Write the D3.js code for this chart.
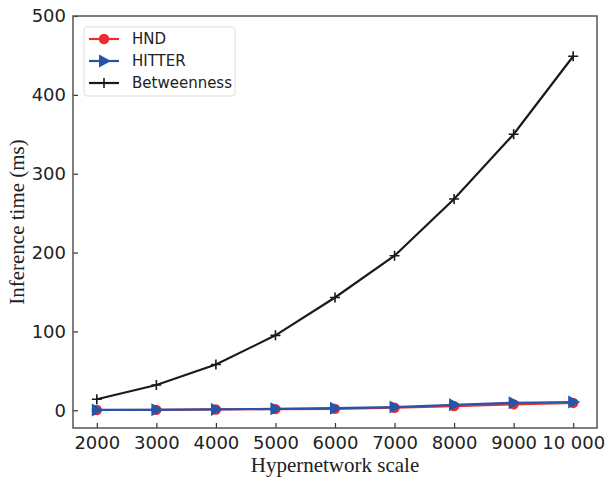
<!DOCTYPE html>
<html>
<head>
<meta charset="utf-8">
<script src="https://cdn.jsdelivr.net/npm/d3@7"></script>
<style>
  body { margin: 0; background: #fff; }
  svg { display: block; }
</style>
</head>
<body>
<div id="viz"></div>
<script>
// data
const scales = [2000, 3000, 4000, 5000, 6000, 7000, 8000, 9000, 10000];
const hnd = [0.3, 0.5, 1.0, 1.4, 1.8, 3.2, 5.2, 7.5, 9.3];
const hitter = [0.4, 0.6, 1.1, 1.8, 2.6, 4.0, 7.0, 9.5, 10.5];
const betweenness = [14, 32, 58, 95, 143, 196, 268, 350, 449];
const yTicks = [0, 100, 200, 300, 400, 500];
const xTickLabels = ["2000", "3000", "4000", "5000", "6000", "7000", "8000", "9000", "10 000"];

const width = 605, height = 479;
const margin = { left: 73, top: 16, right: 8, bottom: 51 };

const svg = d3.select("#viz").append("svg")
  .attr("width", width)
  .attr("height", height);

const x = d3.scaleLinear().domain([1600, 10400]).range([margin.left, width - margin.right]);
const y = d3.scaleLinear().domain([-22.5, 500]).range([height - margin.bottom, margin.top]);

const tickFont = "'DejaVu Sans', sans-serif";
const labelFont = "'Liberation Serif', 'Times New Roman', serif";

// --- Axes ---
const xAxis = svg.append("g")
  .attr("transform", `translate(0,${height - margin.bottom})`)
  .call(d3.axisBottom(x).tickValues(scales).tickFormat((d, i) => xTickLabels[i]).tickSizeInner(-5).tickSizeOuter(0).tickPadding(8));
const yAxis = svg.append("g")
  .attr("transform", `translate(${margin.left},0)`)
  .call(d3.axisLeft(y).tickValues(yTicks).tickSizeInner(-5).tickSizeOuter(0).tickPadding(7));

[xAxis, yAxis].forEach(g => {
  g.select(".domain").remove();
  g.selectAll(".tick line").attr("stroke", "#333").attr("stroke-width", 1.2);
  g.selectAll(".tick text")
    .attr("fill", "#222")
    .style("font-family", tickFont)
    .style("font-size", "18px");
});

// frame
svg.append("rect")
  .attr("x", margin.left)
  .attr("y", margin.top)
  .attr("width", width - margin.left - margin.right)
  .attr("height", height - margin.top - margin.bottom)
  .attr("fill", "none")
  .attr("stroke", "#555")
  .attr("stroke-width", 1.5);

// axis labels
svg.append("text")
  .attr("x", (margin.left + width - margin.right) / 2)
  .attr("y", 472)
  .attr("text-anchor", "middle")
  .style("font-family", labelFont)
  .style("font-size", "21px")
  .attr("fill", "#222")
  .text("Hypernetwork scale");

svg.append("text")
  .attr("transform", `translate(24,${(margin.top + height - margin.bottom) / 2}) rotate(-90)`)
  .attr("text-anchor", "middle")
  .style("font-family", labelFont)
  .style("font-size", "21px")
  .attr("fill", "#222")
  .text("Inference time (ms)");

// --- Series ---
const series = [
  { name: "HND", values: hnd, color: "#ee2a2f", marker: "circle" },
  { name: "HITTER", values: hitter, color: "#2355a8", marker: "triangle" },
  { name: "Betweenness", values: betweenness, color: "#1a1a1a", marker: "plus" }
];

function drawMarker(g, type, color) {
  if (type === "circle") {
    g.append("circle").attr("r", 5.2).attr("fill", color);
  } else if (type === "triangle") {
    g.append("path").attr("d", "M-5,-6.5L7,0L-5,6.5Z").attr("fill", color);
  } else {
    g.append("path").attr("d", "M-5,0H5M0,-5V5").attr("stroke", color).attr("stroke-width", 1.6);
  }
}

const line = d3.line().x(d => x(d[0])).y(d => y(d[1]));

for (const s of series) {
  const pts = scales.map((v, i) => [v, s.values[i]]);
  svg.append("path")
    .datum(pts)
    .attr("d", line)
    .attr("fill", "none")
    .attr("stroke", s.color)
    .attr("stroke-width", 2.2);
  svg.append("g").selectAll("g")
    .data(pts)
    .join("g")
    .attr("transform", d => `translate(${x(d[0])},${y(d[1])})`)
    .each(function () { drawMarker(d3.select(this), s.marker, s.color); });
}

// --- Legend ---
const legend = svg.append("g").attr("transform", "translate(84,27)");
legend.append("rect")
  .attr("width", 151)
  .attr("height", 69)
  .attr("rx", 3)
  .attr("fill", "#fff")
  .attr("fill-opacity", 0.85)
  .attr("stroke", "#ddd")
  .attr("stroke-width", 1);

series.forEach((s, i) => {
  const row = legend.append("g").attr("transform", `translate(0,${12 + i * 22})`);
  row.append("line")
    .attr("x1", 5).attr("x2", 35)
    .attr("stroke", s.color).attr("stroke-width", 2.2);
  drawMarker(row.append("g").attr("transform", "translate(20,0)"), s.marker, s.color);
  row.append("text")
    .attr("x", 48)
    .attr("dy", "0.36em")
    .style("font-family", tickFont)
    .style("font-size", "15px")
    .attr("fill", "#222")
    .text(s.name);
});
</script>
</body>
</html>
